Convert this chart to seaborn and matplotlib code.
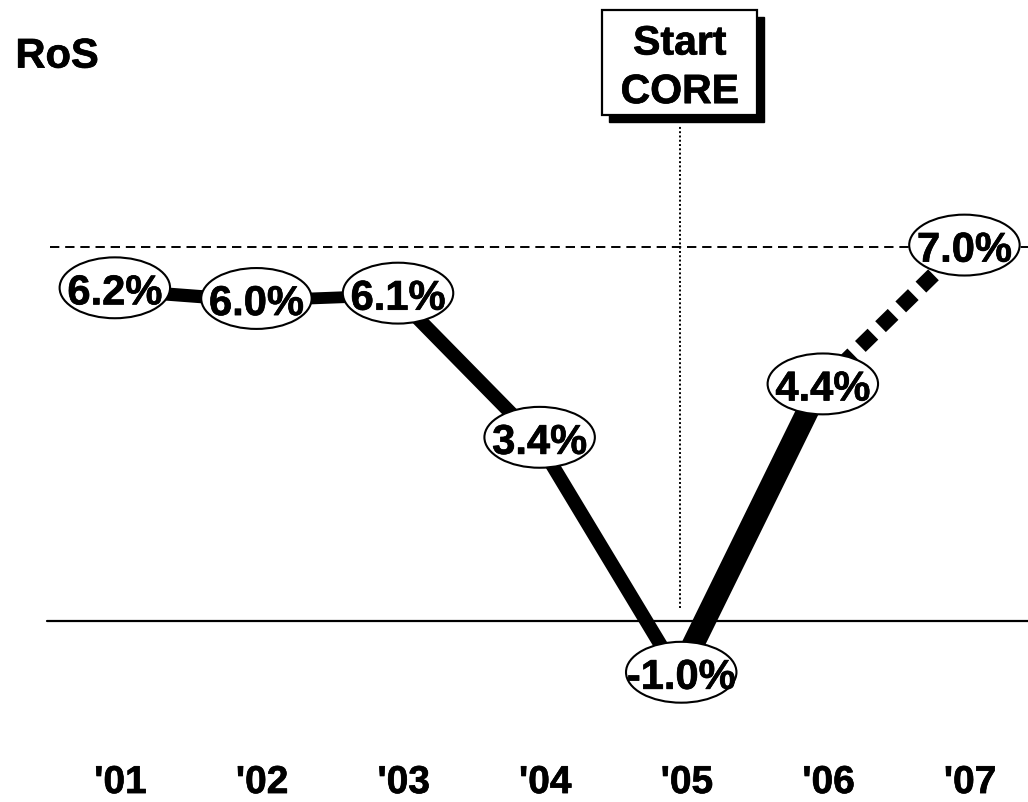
import matplotlib
matplotlib.use("Agg")
import matplotlib.pyplot as plt
from matplotlib.patches import Ellipse, Rectangle
import matplotlib.patheffects as pe
import seaborn as sns
import pandas as pd

# --- data -------------------------------------------------------------
years = ["'01", "'02", "'03", "'04", "'05", "'06", "'07"]
ros = [6.2, 6.0, 6.1, 3.4, -1.0, 4.4, 7.0]
target = 7.0
core_start = "'05"

# per-segment line weights (pt) and whether the segment is a forecast
seg_width = [9.5, 8.5, 10, 10, 16, 11]
seg_forecast = [False, False, False, False, False, True]

# --- styling ----------------------------------------------------------
sns.set_theme(style="white")
plt.rcParams["font.family"] = ["Liberation Sans", "DejaVu Sans"]
plt.rcParams["font.weight"] = "bold"
plt.rcParams["text.color"] = "black"

heavy = [pe.withStroke(linewidth=0.5, foreground="black")]

df = pd.DataFrame({"year": years, "ros": ros})
df["x"] = range(len(df))

fig = plt.figure(figsize=(10.28, 8.02), dpi=100)
ax = fig.add_axes([0, 0, 1, 1])
ax.set_xlim(-0.791, 6.469)
ax.set_ylim(-3.39, 11.63)
ax.axis("off")

# reference lines
ax.axhline(0, xmin=0.0457, xmax=1, color="black", lw=1.6, zorder=1)
ax.axhline(target, xmin=0.0486, xmax=1, color="black", lw=1.4,
           linestyle=(0, (4.8, 3.0)), zorder=1)

# RoS line, one segment at a time
for i in range(len(df) - 1):
    seg = df.iloc[i:i + 2]
    ls = (0, (1.15, 0.7)) if seg_forecast[i] else "-"
    sns.lineplot(data=seg, x="x", y="ros", ax=ax, color="black",
                 lw=seg_width[i], linestyle=ls, sort=False,
                 estimator=None, solid_capstyle="butt",
                 dash_capstyle="butt", zorder=2)

# value bubbles
ew, eh = 0.78, 1.14
for xi, v in zip(df["x"], df["ros"]):
    ax.add_patch(Ellipse((xi + 0.02, v + 0.04), ew, eh, facecolor="white",
                         edgecolor="black", lw=1.5, zorder=3))
    ax.text(xi + 0.02, v + 0.02, f"{v:.1f}%", ha="center",
            va="center_baseline", fontsize=30, fontweight="bold",
            color="black", zorder=4, path_effects=heavy)

# CORE start marker
xc = years.index(core_start)
box_l, box_r = xc - 0.538, xc + 0.557
box_b, box_t = 9.47, 11.435
sx, sy = 0.05, 0.13
ax.add_patch(Rectangle((box_l + sx, box_b - sy), box_r - box_l, box_t - box_b,
                       facecolor="black", edgecolor="black", zorder=5))
ax.add_patch(Rectangle((box_l, box_b), box_r - box_l, box_t - box_b,
                       facecolor="white", edgecolor="black", lw=1.6, zorder=6))
ax.text(xc + 0.01, 10.89, "Start", ha="center", va="center_baseline",
        fontsize=29.5, fontweight="bold", zorder=7, path_effects=heavy)
ax.text(xc + 0.01, 9.98, "CORE", ha="center", va="center_baseline",
        fontsize=29.5, fontweight="bold", zorder=7, path_effects=heavy)
ax.plot([xc + 0.01, xc + 0.01], [0.24, box_b - 0.2], color="black", lw=1.4,
        linestyle=(0, (1, 1.2)), zorder=1)

# axis title
ax.text(0.015, 0.935, "RoS", transform=ax.transAxes, ha="left",
        va="center_baseline", fontsize=30, fontweight="bold",
        path_effects=heavy)

# year labels along the bottom
for xi, lab in zip(df["x"], df["year"]):
    ax.text(xi + 0.06, -2.96, lab, ha="center", va="center_baseline",
            fontsize=28, fontweight="bold", path_effects=heavy, zorder=4)

fig.savefig("out.png", dpi=100)
